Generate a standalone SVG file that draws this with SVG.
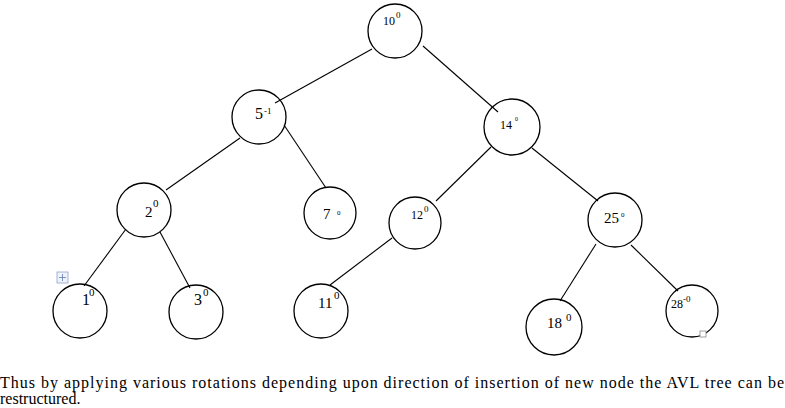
<svg xmlns="http://www.w3.org/2000/svg" width="785" height="408" viewBox="0 0 785 408">
<style>
.n{fill:none;stroke:#000;stroke-width:1.3}
.e{stroke:#000;stroke-width:1.1}
.k{font-size:12px}
.s{font-size:9px}
.m{font-size:15px}
.b{font-size:16px}
</style>
<rect width="785" height="408" fill="#fff"/>
<g id="connectors">
<line class="e" x1="372" y1="49" x2="275" y2="103"/>
<line class="e" x1="423" y1="46" x2="498" y2="112"/>
<line class="e" x1="240" y1="138" x2="166" y2="190"/>
<line class="e" x1="284" y1="125" x2="326" y2="188"/>
<line class="e" x1="491" y1="147" x2="436" y2="201"/>
<line class="e" x1="532" y1="148" x2="598" y2="201"/>
<line class="e" x1="126" y1="229" x2="84" y2="286"/>
<line class="e" x1="160" y1="232" x2="190" y2="288"/>
<line class="e" x1="392" y1="238" x2="330" y2="285"/>
<line class="e" x1="596" y1="244" x2="560" y2="301"/>
<line class="e" x1="631" y1="245" x2="678" y2="291"/>
</g>
<g font-family="'Liberation Serif','Times New Roman','DejaVu Serif',serif" fill="#000">
<g id="node-10"><circle class="n" cx="395" cy="31" r="27"/><text x="383" y="25" class="k">10</text><text x="396" y="18" class="s">0</text></g>
<g id="node-5"><circle class="n" cx="259" cy="117" r="27"/><text x="255" y="119" class="b">5</text><text x="264" y="114" class="s">-1</text></g>
<g id="node-14"><circle class="n" cx="512" cy="127" r="28"/><text x="500" y="129" class="k">14</text><text x="515" y="121" font-size="6px">0</text></g>
<g id="node-2"><circle class="n" cx="144" cy="210" r="27"/><text x="145" y="217" class="m">2</text><text x="153" y="207" font-size="11px">0</text></g>
<g id="node-7"><circle class="n" cx="330" cy="213" r="26"/><text x="323" y="219" class="m">7</text><text x="337" y="215" font-size="7px">0</text></g>
<g id="node-12"><circle class="n" cx="415" cy="223" r="26"/><text x="411" y="219" class="k">12</text><text x="424" y="212" class="s">0</text></g>
<g id="node-25"><circle class="n" cx="615" cy="220" r="27"/><text x="604" y="223" class="m">25</text><text x="621" y="217" font-size="7px">0</text></g>
<g id="node-1"><circle class="n" cx="80" cy="311" r="27"/><text x="82" y="305" class="b">1</text><text x="89" y="296" font-size="11px">0</text></g>
<g id="node-3"><circle class="n" cx="196" cy="312" r="27"/><text x="194" y="305" class="b">3</text><text x="203" y="296" font-size="11px">0</text></g>
<g id="node-11"><circle class="n" cx="321" cy="311" r="27"/><text x="318" y="308" class="m">11</text><text x="334" y="299" font-size="11px">0</text></g>
<g id="node-18"><circle class="n" cx="554" cy="327" r="28"/><text x="547" y="328" class="m">18</text><text x="566" y="321" font-size="11px">0</text></g>
<g id="node-28"><circle class="n" cx="692" cy="311" r="26"/><text x="671" y="308" class="k">28</text><text x="683" y="302" class="s">-0</text><rect x="700" y="331" width="6" height="6" fill="#fff" stroke="#888" stroke-width="0.8"/></g>
<g id="handle"><rect x="57" y="272" width="11" height="11" fill="#eef2fa" stroke="#8ea4c8" stroke-width="0.8"/><path d="M62.5 274v7M59 277.5h7" stroke="#5f7bb0" stroke-width="0.8"/></g>
<text x="0" y="388" class="b" textLength="784" lengthAdjust="spacing">Thus by applying various rotations depending upon direction of insertion of new node the AVL  tree can be</text>
<text x="0" y="404" class="b">restructured.</text>
</g>
</svg>
